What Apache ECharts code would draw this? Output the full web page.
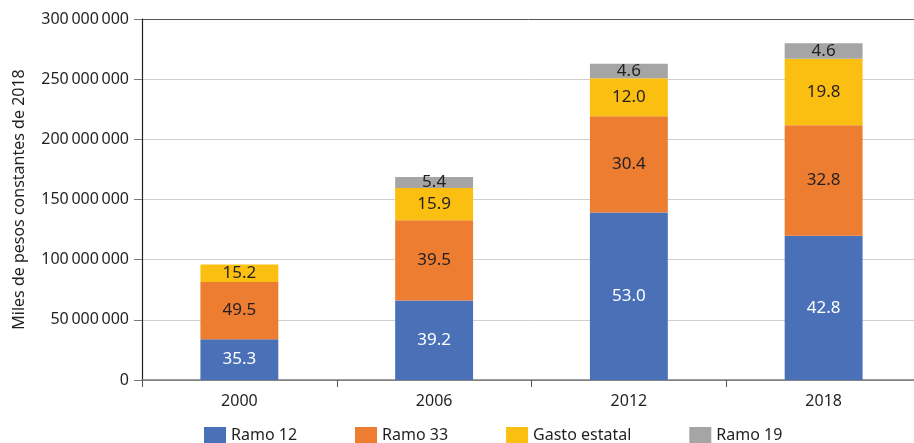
<!DOCTYPE html>
<html>
<head>
<meta charset="utf-8">
<script src="https://cdn.jsdelivr.net/npm/echarts@6/dist/echarts.min.js"></script>
<style>html,body{margin:0;padding:0;background:#fff}#c{width:914px;height:443px}</style>
</head>
<body>
<div id="c"></div>
<script>
const categories = ['2000', '2006', '2012', '2018'];
const seriesNames = ['Ramo 12', 'Ramo 33', 'Gasto estatal', 'Ramo 19'];
// values in thousands of pesos (2018 constant)
const ramo12 = [33900000, 66100000, 139300000, 119800000];
const ramo33 = [47500000, 66600000, 79900000, 91800000];
const gastoEstatal = [14600000, 26800000, 31500000, 55400000];
const ramo19 = [null, 9100000, 12100000, 12900000];
// percentage labels shown on the bars
const pct12 = [35.3, 39.2, 53.0, 42.8];
const pct33 = [49.5, 39.5, 30.4, 32.8];
const pctGasto = [15.2, 15.9, 12.0, 19.8];
const pct19 = [null, 5.4, 4.6, 4.6];
const yTicks = [0, 50000000, 100000000, 150000000, 200000000, 250000000, 300000000];

const colors = ['#4a71b8', '#ed7d31', '#fbbf12', '#a5a5a5'];
const font = 'Noto Sans';

function mk(name, data, pct, color, labelColor) {
  return {
    name: name, type: 'bar', stack: 'total', data: data,
    barWidth: '40%',
    itemStyle: { color: color },
    label: {
      show: true, position: 'inside', color: labelColor,
      fontFamily: font, fontSize: 17,
      formatter: p => pct[p.dataIndex] == null ? '' : pct[p.dataIndex].toFixed(1)
    }
  };
}

const chart = echarts.init(document.getElementById('c'));
chart.setOption({
  animation: false,
  color: colors,
  grid: { left: 142, width: 779, top: 19, bottom: 63, outerBoundsMode: 'none', containLabel: false },
  legend: {
    data: seriesNames, top: 422, left: 199,
    icon: 'rect', itemWidth: 22, itemHeight: 16, itemGap: 58,
    textStyle: { fontFamily: font, fontSize: 16, color: '#231f20' }
  },
  xAxis: {
    type: 'category', data: categories,
    axisLine: { lineStyle: { color: '#808080', width: 1.5 } },
    axisTick: { show: true, length: 7, lineStyle: { color: '#555' } },
    axisLabel: { fontFamily: font, fontSize: 16, color: '#231f20', margin: 13 }
  },
  yAxis: {
    type: 'value', min: yTicks[0], max: yTicks[yTicks.length - 1], interval: 50000000,
    name: 'Miles de pesos constantes de 2018', nameLocation: 'middle', nameGap: 115,
    nameTextStyle: { fontFamily: font, fontSize: 16, color: '#231f20' },
    axisLine: { show: true, lineStyle: { color: '#231f20', width: 1.2 } },
    axisTick: { show: true, length: 8, lineStyle: { color: '#777' } },
    axisLabel: {
      fontFamily: font, fontSize: 16, color: '#231f20', margin: 13,
      formatter: v => String(v).replace(/\B(?=(\d{3})+(?!\d))/g, '\u2009')
    },
    splitLine: { lineStyle: { color: ['#888', '#cfcfcf', '#cfcfcf', '#cfcfcf', '#cfcfcf', '#cfcfcf', '#555'] } }
  },
  series: [
    mk(seriesNames[0], ramo12, pct12, colors[0], '#ffffff'),
    mk(seriesNames[1], ramo33, pct33, colors[1], '#231f20'),
    mk(seriesNames[2], gastoEstatal, pctGasto, colors[2], '#231f20'),
    mk(seriesNames[3], ramo19, pct19, colors[3], '#231f20')
  ]
});
</script>
</body>
</html>
